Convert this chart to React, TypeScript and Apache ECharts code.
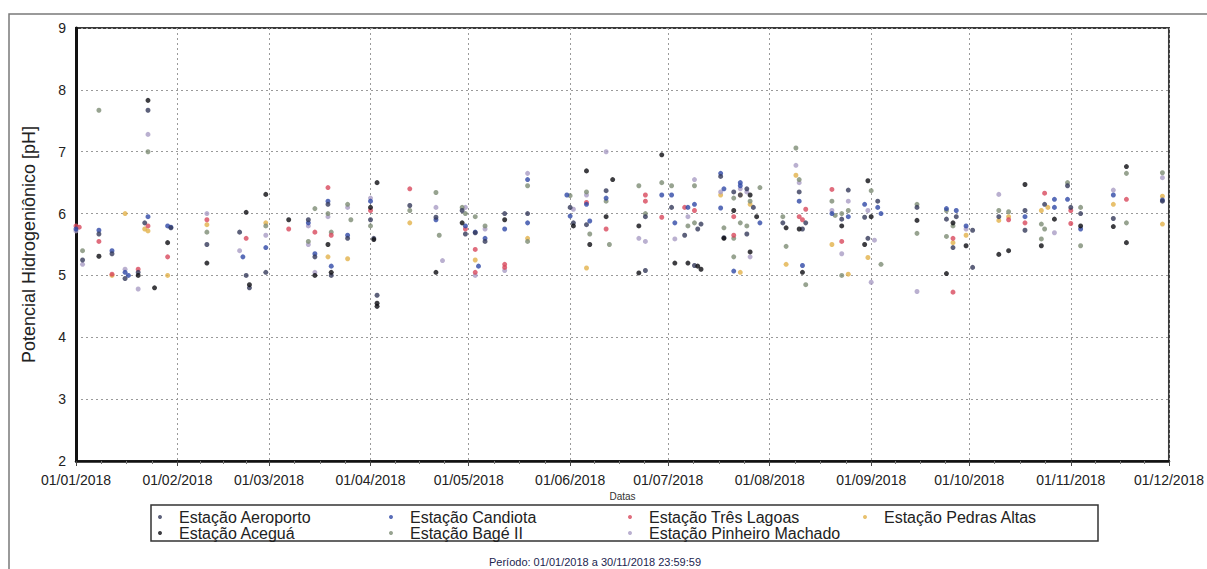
import React, { useEffect, useRef } from 'react';
import * as echarts from 'echarts';

const FONT = 'Arial, "Liberation Sans", Helvetica, sans-serif';
const YEAR = '2018';

const X_MIN = '2018-01-01';
const X_MAX = '2018-12-01';
const Y_MIN = 2;
const Y_MAX = 9;
const Y_STEP = 1;

const Y_NAME = 'Potencial Hidrogeniônico [pH]';
const X_NAME = 'Datas';
const PERIOD = 'Período: 01/01/2018 a 30/11/2018 23:59:59';

// [MM-DD, pH]
const aeroporto: [string, number][] = [
  ['01-03', 5.25], ['01-08', 5.67], ['01-12', 5.35], ['01-16', 4.95], ['01-20', 5.05], ['01-23', 7.67],
  ['01-22', 5.85], ['01-30', 5.77], ['02-10', 5.5], ['02-20', 5.7], ['02-22', 5.0], ['02-23', 4.8],
  ['02-28', 5.05], ['03-13', 5.9], ['03-15', 5.3], ['03-19', 6.15], ['03-20', 5.0], ['03-25', 5.6],
  ['04-01', 5.9], ['04-02', 5.6], ['04-03', 4.68], ['04-13', 6.13], ['04-21', 5.94], ['04-29', 6.05],
  ['04-30', 5.67], ['05-03', 5.69], ['05-06', 5.55], ['05-12', 6.0], ['05-19', 6.0], ['06-02', 5.85],
  ['06-01', 6.1], ['06-06', 5.82], ['06-12', 6.37], ['06-24', 5.95], ['06-24', 5.08], ['07-02', 6.1],
  ['07-06', 5.65], ['07-10', 5.75], ['07-09', 5.16], ['07-11', 5.83], ['07-17', 6.6], ['07-18', 5.61],
  ['07-21', 6.35], ['07-23', 6.3], ['07-25', 6.4], ['07-25', 5.67], ['07-27', 6.1], ['08-05', 5.85],
  ['08-10', 6.35], ['08-11', 5.75], ['08-12', 5.85], ['08-23', 5.91], ['08-25', 6.38], ['08-30', 5.94],
  ['08-31', 5.6], ['09-03', 6.2], ['09-15', 6.1], ['09-24', 5.91], ['09-27', 5.95], ['09-26', 5.45],
  ['10-02', 5.73], ['10-02', 5.13], ['10-10', 5.95], ['10-18', 6.05], ['10-18', 5.73], ['10-24', 6.15],
  ['10-31', 6.45], ['11-01', 6.1], ['11-04', 6.0], ['11-14', 5.92], ['11-29', 6.2],
];

const acegua: [string, number][] = [
  ['01-08', 5.31], ['01-20', 5.0], ['01-23', 7.83], ['01-25', 4.8], ['01-29', 5.53], ['02-10', 5.2],
  ['02-22', 6.02], ['02-23', 4.85], ['02-28', 6.31], ['03-07', 5.9], ['03-15', 5.0], ['03-19', 5.5],
  ['03-20', 5.05], ['04-01', 6.1], ['04-02', 5.58], ['04-03', 6.5], ['04-03', 4.55], ['04-03', 4.5],
  ['04-21', 5.05], ['04-29', 5.85], ['05-12', 5.9], ['06-02', 5.8], ['06-06', 6.69], ['06-07', 5.5],
  ['06-12', 5.95], ['06-14', 6.55], ['06-22', 5.8], ['06-22', 5.04], ['06-29', 6.95], ['07-03', 5.2],
  ['07-07', 5.2], ['07-10', 5.15], ['07-11', 5.1], ['07-18', 5.6], ['07-21', 6.05], ['07-26', 6.3],
  ['07-28', 5.95], ['07-26', 5.38], ['08-06', 5.77], ['08-10', 5.75], ['08-11', 5.05], ['08-23', 5.8],
  ['08-31', 6.53], ['09-01', 5.95], ['08-30', 5.5], ['09-15', 5.89], ['09-24', 5.03], ['09-26', 5.85],
  ['09-30', 5.48], ['10-10', 5.34], ['10-13', 5.4], ['10-18', 6.47], ['10-27', 5.91], ['10-23', 5.48],
  ['11-04', 5.8], ['11-14', 5.79], ['11-18', 6.76], ['11-18', 5.53],
];

const candiota: [string, number][] = [
  ['01-01', 5.75], ['01-08', 5.73], ['01-12', 5.4], ['01-16', 5.05], ['01-17', 5.0], ['01-23', 5.95],
  ['01-29', 5.8], ['01-30', 5.78], ['02-21', 5.3], ['02-28', 5.45], ['03-13', 5.85], ['03-15', 5.35],
  ['03-19', 6.2], ['03-20', 5.15], ['03-25', 5.65], ['04-01', 6.2], ['04-21', 5.9], ['04-30', 5.8],
  ['05-03', 5.7], ['05-04', 5.15], ['05-06', 5.6], ['05-12', 5.75], ['05-19', 6.55], ['05-19', 5.85],
  ['05-31', 6.3], ['06-01', 5.96], ['06-06', 6.15], ['06-07', 5.88], ['06-12', 6.25], ['06-29', 6.3],
  ['07-02', 6.3], ['07-03', 5.85], ['07-07', 6.1], ['07-09', 6.15], ['07-17', 6.65], ['07-18', 6.4],
  ['07-17', 6.09], ['07-21', 5.07], ['07-23', 6.45], ['07-23', 6.5], ['07-29', 5.85], ['08-10', 6.2],
  ['08-11', 5.16], ['08-20', 6.0], ['08-25', 5.95], ['08-30', 6.15], ['09-03', 6.1], ['09-04', 6.0],
  ['09-24', 6.08], ['09-27', 6.05], ['09-30', 5.8], ['10-18', 5.95], ['10-27', 6.23], ['10-27', 6.1],
  ['10-31', 6.23], ['11-04', 5.75], ['11-14', 6.3], ['11-29', 6.22],
];

const tresLagoas: [string, number][] = [
  ['01-01', 5.8], ['01-02', 5.78], ['01-08', 5.55], ['01-12', 5.02], ['01-20', 5.1], ['01-23', 5.8],
  ['01-29', 5.3], ['02-10', 5.9], ['02-22', 5.6], ['03-07', 5.75], ['03-15', 5.7], ['03-19', 6.42],
  ['03-20', 5.65], ['04-01', 6.05], ['04-13', 6.4], ['04-30', 5.75], ['05-03', 5.42], ['05-03', 5.05],
  ['05-12', 5.18], ['05-12', 5.13], ['06-06', 6.18], ['06-12', 5.75], ['06-24', 6.3], ['06-24', 6.2],
  ['06-29', 5.94], ['07-06', 6.1], ['07-09', 6.05], ['07-21', 5.95], ['07-21', 5.65], ['08-10', 5.95],
  ['08-11', 5.9], ['08-12', 6.07], ['08-20', 6.39], ['08-23', 5.55], ['09-26', 4.73], ['09-26', 5.6],
  ['10-13', 5.9], ['10-18', 5.85], ['10-24', 6.33], ['11-01', 6.05], ['11-01', 5.84], ['11-18', 6.23],
];

const pedrasAltas: [string, number][] = [
  ['01-12', 5.0], ['01-16', 6.0], ['01-22', 5.75], ['01-23', 5.72], ['01-29', 5.0], ['02-10', 5.82],
  ['02-28', 5.85], ['03-19', 5.3], ['03-25', 5.27], ['04-13', 5.85], ['05-03', 5.25], ['05-19', 5.6],
  ['06-06', 5.12], ['07-17', 6.3], ['07-23', 6.3], ['07-23', 5.05], ['07-26', 6.15], ['08-06', 5.18],
  ['08-09', 6.62], ['08-20', 5.5], ['08-25', 5.02], ['08-31', 5.29], ['09-26', 5.53], ['09-30', 5.65],
  ['10-10', 5.89], ['10-13', 5.95], ['10-23', 6.05], ['10-25', 6.1], ['11-14', 6.15], ['11-29', 6.28],
  ['11-29', 5.83],
];

const bageII: [string, number][] = [
  ['01-03', 5.4], ['01-08', 7.67], ['01-23', 7.0], ['02-10', 5.7], ['02-28', 5.8], ['03-13', 5.55],
  ['03-15', 6.08], ['03-19', 6.0], ['03-20', 5.7], ['03-25', 6.15], ['03-26', 5.9], ['04-01', 5.8],
  ['04-13', 6.05], ['04-21', 6.34], ['04-22', 5.65], ['04-29', 6.1], ['04-30', 6.0], ['05-03', 5.95],
  ['05-06', 5.8], ['05-19', 6.45], ['05-19', 5.55], ['06-01', 6.29], ['06-06', 6.35], ['06-07', 5.67],
  ['06-12', 6.2], ['06-13', 5.5], ['06-22', 6.45], ['06-24', 6.0], ['06-29', 6.5], ['07-02', 6.45],
  ['07-07', 5.8], ['07-09', 6.45], ['07-09', 5.85], ['07-18', 5.77], ['07-21', 6.25], ['07-21', 5.6],
  ['07-21', 5.3], ['07-23', 5.85], ['07-25', 5.8], ['07-26', 6.2], ['07-29', 6.42], ['08-05', 5.95],
  ['08-06', 5.47], ['08-09', 7.06], ['08-10', 6.55], ['08-12', 4.85], ['08-20', 6.2], ['08-21', 5.97],
  ['08-23', 6.0], ['08-23', 5.0], ['08-25', 6.05], ['09-01', 6.37], ['09-04', 5.18], ['09-15', 6.15],
  ['09-15', 5.68], ['09-24', 6.05], ['09-24', 5.63], ['09-26', 5.8], ['10-10', 6.05], ['10-13', 6.03],
  ['10-23', 5.83], ['10-24', 5.75], ['10-23', 5.59], ['10-31', 6.5], ['11-04', 6.1], ['11-04', 5.48],
  ['11-18', 6.65], ['11-18', 5.85], ['11-29', 6.66],
];

const pinheiroMachado: [string, number][] = [
  ['01-01', 5.72], ['01-03', 5.18], ['01-16', 5.1], ['01-20', 4.78], ['01-23', 7.28], ['02-10', 6.0],
  ['02-20', 5.4], ['02-28', 5.65], ['03-13', 5.8], ['03-13', 5.5], ['03-15', 5.05], ['03-19', 5.95],
  ['03-25', 6.1], ['04-01', 6.25], ['04-21', 6.1], ['04-23', 5.24], ['04-30', 6.1], ['05-03', 5.0],
  ['05-06', 5.75], ['05-12', 5.08], ['05-19', 6.65], ['06-02', 6.07], ['06-06', 6.3], ['06-12', 7.0],
  ['06-22', 5.6], ['06-24', 5.55], ['07-03', 5.59], ['07-07', 5.95], ['07-09', 6.55], ['07-17', 6.35],
  ['07-23', 6.4], ['07-25', 6.35], ['07-26', 5.3], ['08-09', 6.78], ['08-10', 6.5], ['08-20', 6.05],
  ['08-23', 5.35], ['08-25', 6.2], ['08-31', 6.05], ['09-02', 5.57], ['09-01', 4.89], ['09-15', 4.74],
  ['09-30', 5.75], ['10-10', 6.31], ['10-27', 5.69], ['11-14', 6.38], ['11-29', 6.58],
];

// drawing order: light colours first, dark ones on top
const SERIES: { name: string; color: string; data: [string, number][] }[] = [
  { name: 'Estação Pedras Altas', color: '#e2b24a', data: pedrasAltas },
  { name: 'Estação Pinheiro Machado', color: '#a99cc4', data: pinheiroMachado },
  { name: 'Estação Bagé II', color: '#7d8c74', data: bageII },
  { name: 'Estação Três Lagoas', color: '#d8485c', data: tresLagoas },
  { name: 'Estação Candiota', color: '#2f48a6', data: candiota },
  { name: 'Estação Aeroporto', color: '#34395a', data: aeroporto },
  { name: 'Estação Aceguá', color: '#0d0d12', data: acegua },
];

const LEGEND_COLUMNS: { left: number; items: string[] }[] = [
  { left: 158, items: ['Estação Aeroporto', 'Estação Aceguá'] },
  { left: 389, items: ['Estação Candiota', 'Estação Bagé II'] },
  { left: 628, items: ['Estação Três Lagoas', 'Estação Pinheiro Machado'] },
  { left: 863, items: ['Estação Pedras Altas'] },
];

const pad = (n: number) => (n < 10 ? '0' + n : '' + n);
const fmtDate = (v: number) => {
  const d = new Date(v);
  return `${pad(d.getDate())}/${pad(d.getMonth() + 1)}/${d.getFullYear()}`;
};

export default function App() {
  const ref = useRef<HTMLDivElement>(null);

  useEffect(() => {
    if (!ref.current) return;
    const chart = echarts.init(ref.current, null, { renderer: 'svg' });
    const DAY = 24 * 3600 * 1000;
    const option: any = {
      animation: false,
      backgroundColor: '#ffffff',
      textStyle: { fontFamily: FONT },
      grid: {
        left: 76,
        right: 35,
        top: 28,
        bottom: 108,
        show: true,
        borderColor: '#3a3a3a',
        borderWidth: 2,
        backgroundColor: 'transparent',
      },
      xAxis: {
        type: 'time',
        min: X_MIN,
        max: X_MAX,
        splitNumber: 11,
        maxInterval: 31 * DAY,
        minInterval: 28 * DAY,
        name: X_NAME,
        nameLocation: 'middle',
        nameGap: 29,
        nameTextStyle: { fontSize: 10, color: '#333', fontFamily: FONT },
        axisLine: { show: true, lineStyle: { color: '#111', width: 2.5 } },
        axisTick: { show: true, length: 5, lineStyle: { color: '#444' } },
        minorTick: { show: true, splitNumber: 4, length: 3, lineStyle: { color: '#777' } },
        axisLabel: {
          fontSize: 14,
          color: '#222',
          fontFamily: FONT,
          margin: 12,
          showMinLabel: true,
          showMaxLabel: true,
          hideOverlap: false,
          formatter: (v: number) => fmtDate(v),
        },
        splitLine: { show: true, lineStyle: { color: '#9a9a9a', width: 1, type: [2, 3] } },
      },
      yAxis: {
        type: 'value',
        min: Y_MIN,
        max: Y_MAX,
        interval: Y_STEP,
        name: Y_NAME,
        nameLocation: 'middle',
        nameGap: 38,
        nameRotate: 90,
        nameTextStyle: { fontSize: 18, color: '#222', fontFamily: FONT },
        axisLine: { show: true, lineStyle: { color: '#111', width: 3 } },
        axisTick: { show: false },
        axisLabel: { fontSize: 14, color: '#222', fontFamily: FONT, margin: 10 },
        splitLine: { show: true, lineStyle: { color: '#9a9a9a', width: 1, type: [2, 3] } },
      },
      legend: LEGEND_COLUMNS.map((c) => ({
        left: c.left,
        top: 509,
        orient: 'vertical',
        padding: 0,
        itemGap: 0,
        itemWidth: 28,
        itemHeight: 4,
        icon: 'circle',
        selectedMode: false,
        textStyle: { fontSize: 16, color: '#222', fontFamily: FONT, lineHeight: 15 },
        data: c.items,
      })),
      graphic: [
        {
          type: 'rect',
          silent: true,
          shape: { x: 9, y: 14, width: 1220, height: 570 },
          style: { fill: 'none', stroke: '#7a7a7a', lineWidth: 1.5 },
        },
        {
          type: 'rect',
          silent: true,
          shape: { x: 151, y: 505, width: 947, height: 36 },
          style: { fill: 'none', stroke: '#333', lineWidth: 1.5 },
        },
        {
          type: 'text',
          silent: true,
          x: 595,
          y: 562,
          style: {
            text: PERIOD,
            fontSize: 11,
            fontFamily: FONT,
            fill: '#1c2550',
            align: 'center',
            verticalAlign: 'middle',
          },
        },
      ],
      series: SERIES.map((s) => ({
        name: s.name,
        type: 'scatter',
        symbol: 'circle',
        symbolSize: 5,
        itemStyle: { color: s.color },
        data: s.data.map(([md, v]) => [`${YEAR}-${md}`, v]),
      })),
    };
    chart.setOption(option);
    return () => chart.dispose();
  }, []);

  return (
    <div
      ref={ref}
      style={{ position: 'fixed', left: 0, top: 0, width: 1207, height: 569, background: '#fff' }}
    />
  );
}
